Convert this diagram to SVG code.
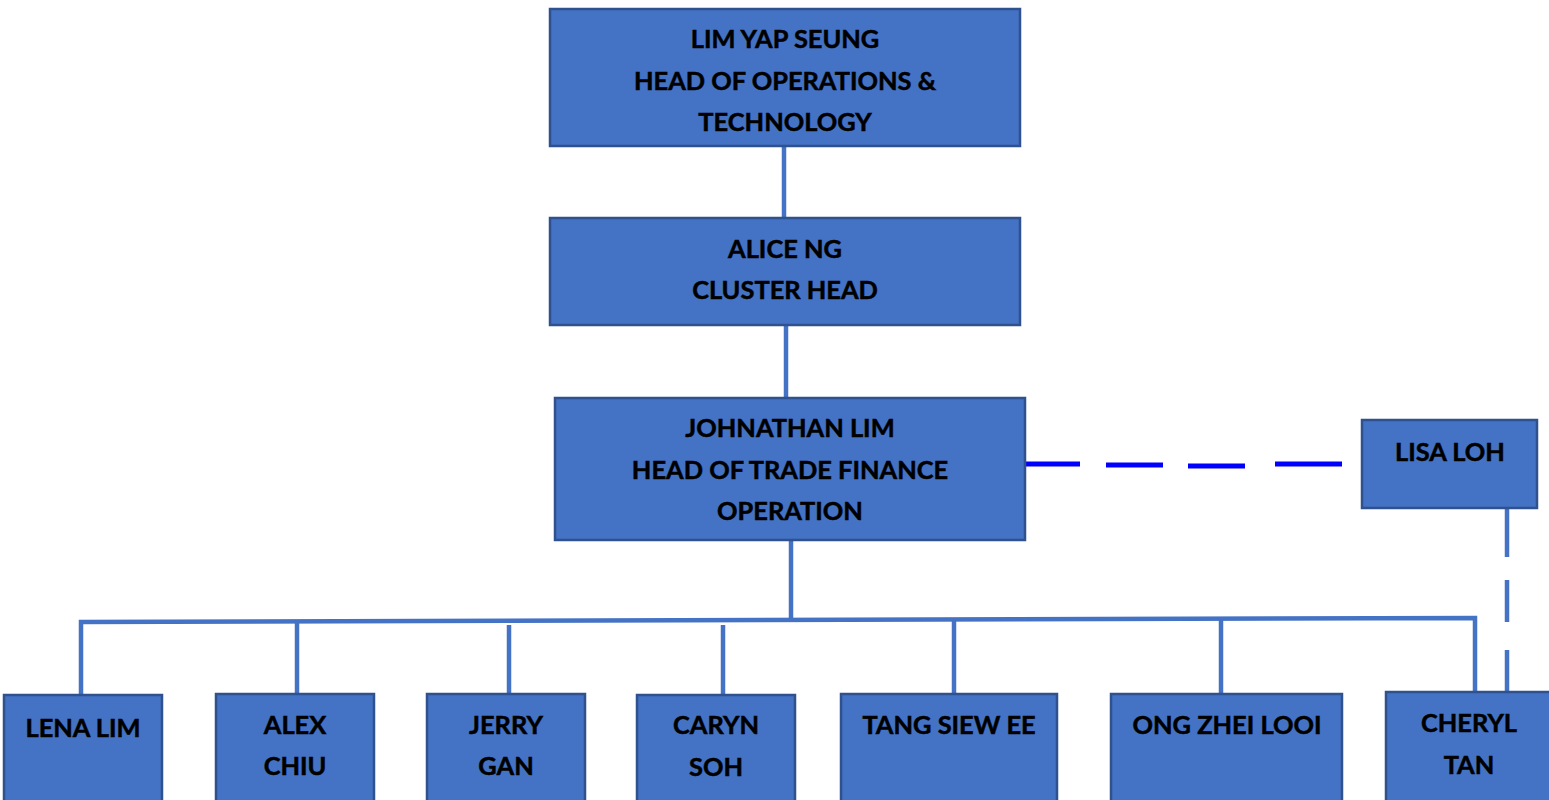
<svg xmlns="http://www.w3.org/2000/svg" width="1549" height="800" viewBox="0 0 1549 800">
<style>
.box{fill:#4472C4;stroke:#2F528F;stroke-width:2.5}
.t{font-family:Lato,"Liberation Sans",sans-serif;font-weight:bold;font-size:25.4px;fill:#000;stroke:#000;stroke-width:0.5;text-anchor:middle}
.ln{stroke:#4472C4;stroke-width:4.5;fill:none}
</style>
<rect width="1549" height="800" fill="#fff"/>
<g id="connectors">
<line class="ln" x1="784" y1="146" x2="784" y2="218"/>
<line class="ln" x1="786" y1="325" x2="786" y2="398"/>
<line class="ln" x1="791" y1="540" x2="791" y2="621"/>
<polyline class="ln" points="81,695 81,622 1475,618 1475,692"/>
<line class="ln" x1="297" y1="621" x2="297" y2="694"/>
<line class="ln" x1="509" y1="625" x2="509" y2="694"/>
<line class="ln" x1="723" y1="625" x2="723" y2="694"/>
<line class="ln" x1="954" y1="620" x2="954" y2="694"/>
<line class="ln" x1="1221" y1="619" x2="1221" y2="694"/>
<g stroke="#0000FF" stroke-width="5">
<line x1="1025" y1="464" x2="1080" y2="464"/>
<line x1="1106" y1="465" x2="1163" y2="465"/>
<line x1="1188" y1="466" x2="1245" y2="466"/>
<line x1="1275" y1="464" x2="1342" y2="464"/>
</g>
<g class="ln">
<line x1="1507" y1="508" x2="1507" y2="557"/>
<line x1="1507" y1="580" x2="1507" y2="622"/>
<line x1="1507" y1="650" x2="1507" y2="692"/>
</g>
</g>
<g id="lim"><rect class="box" x="550" y="9" width="470" height="137"/>
<text class="t" x="785" y="48">LIM YAP SEUNG</text><text class="t" x="785" y="90">HEAD OF OPERATIONS &amp;</text><text class="t" x="785" y="131">TECHNOLOGY</text></g>
<g id="alice"><rect class="box" x="550" y="218" width="470" height="107"/>
<text class="t" x="785" y="258">ALICE NG</text><text class="t" x="785" y="299">CLUSTER HEAD</text></g>
<g id="johnathan"><rect class="box" x="555" y="398" width="470" height="142"/>
<text class="t" x="790" y="437">JOHNATHAN LIM</text><text class="t" x="790" y="479">HEAD OF TRADE FINANCE</text><text class="t" x="790" y="520">OPERATION</text></g>
<g id="lisa"><rect class="box" x="1362" y="420" width="175" height="88"/>
<text class="t" x="1450" y="461">LISA LOH</text></g>
<g id="lena"><rect class="box" x="4" y="695" width="158" height="110"/>
<text class="t" x="83" y="737">LENA LIM</text></g>
<g id="alex"><rect class="box" x="216" y="694" width="158" height="110"/>
<text class="t" x="295" y="734">ALEX</text><text class="t" x="295" y="775">CHIU</text></g>
<g id="jerry"><rect class="box" x="427" y="694" width="158" height="110"/>
<text class="t" x="506" y="734">JERRY</text><text class="t" x="506" y="775">GAN</text></g>
<g id="caryn"><rect class="box" x="637" y="695" width="158" height="110"/>
<text class="t" x="716" y="734">CARYN</text><text class="t" x="716" y="776">SOH</text></g>
<g id="tang"><rect class="box" x="841" y="694" width="216" height="110"/>
<text class="t" x="949" y="734">TANG SIEW EE</text></g>
<g id="ong"><rect class="box" x="1111" y="694" width="231" height="110"/>
<text class="t" x="1227" y="734">ONG ZHEI LOOI</text></g>
<g id="cheryl"><rect class="box" x="1386" y="692" width="170" height="112"/>
<text class="t" x="1469" y="732">CHERYL</text><text class="t" x="1469" y="774">TAN</text></g>
</svg>
